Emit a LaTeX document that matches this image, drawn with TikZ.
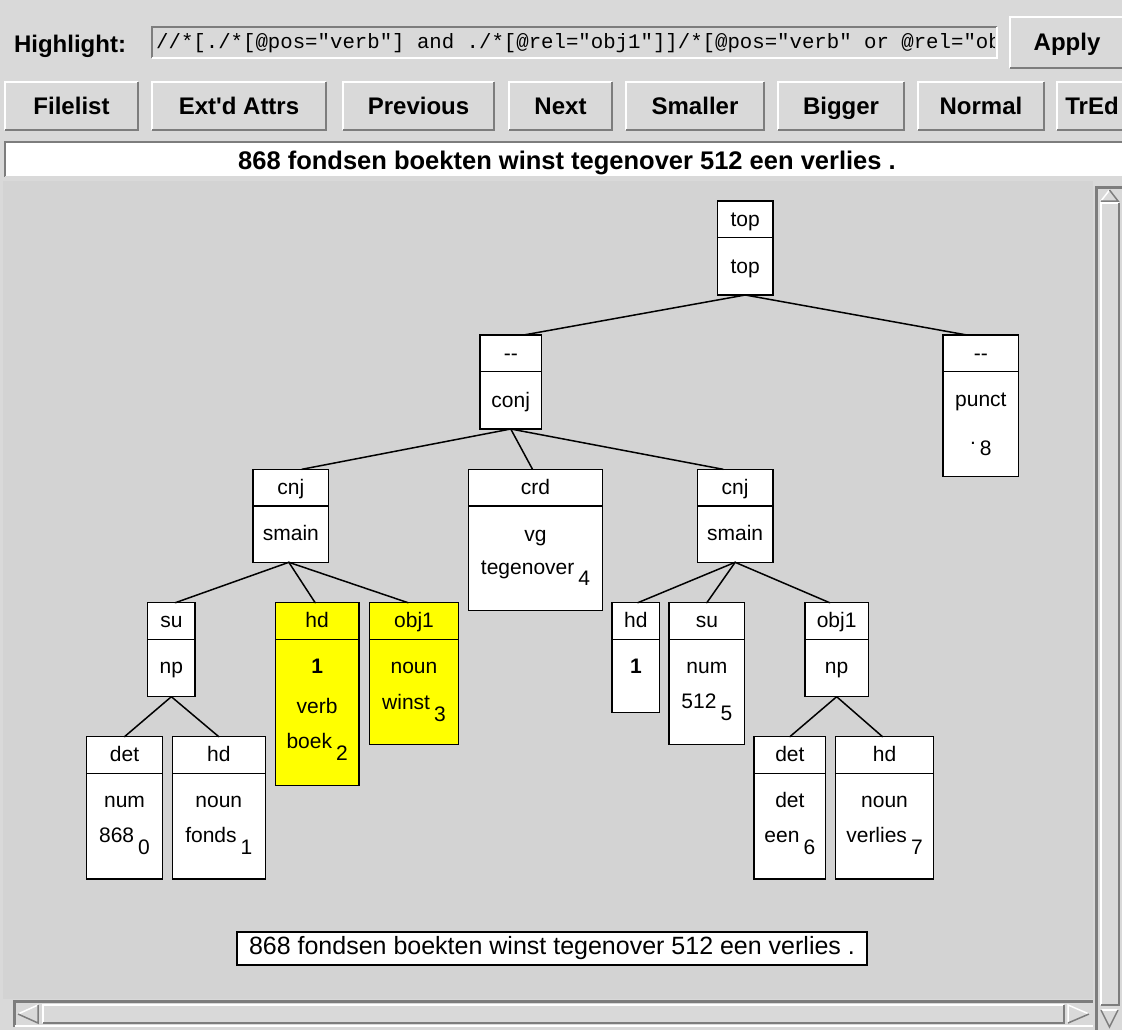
\documentclass[tikz,border=0pt]{standalone}
\usepackage{fontspec}
\setmainfont{Liberation Sans}
\newfontfamily\monofont{Liberation Mono}
\usetikzlibrary{calc}
\definecolor{uigray}{RGB}{217,217,217}
\definecolor{cvgray}{RGB}{211,211,211}
\definecolor{dkgray}{RGB}{125,125,125}
\definecolor{hlyellow}{RGB}{255,255,0}
\newcounter{tlc}
\newcommand\sub[2]{#1\hspace{4pt}\raisebox{-11.5pt}{#2}}
% tree box: name, x, y (top-left), width, height, fill
\newcommand\TB[6]{%
  \node[tbox, fill=#6, minimum width=#4pt, minimum height=#5pt] (#1) at (#2,#3) {};%
  \draw[divl] ([yshift=-36.5pt]#1.north west) -- ([yshift=-36.5pt]#1.north east);}
% text line in a box: [style] name, baseline offset from top, text
\newcommand\TL[4][tt]{\stepcounter{tlc}%
  \node[#1] (lbl\arabic{tlc}) at ([yshift=-#3pt]#2.north) {#4};}
% raised UI button: name, x1, y1, x2, y2, text
\newcommand\uibutton[6]{%
  \pgfmathsetmacro\bw{#4-#2}\pgfmathsetmacro\bh{#5-#3}%
  \pgfmathsetmacro\bx{(#2+#4)/2}\pgfmathsetmacro\by{(#3+#5)/2+8.5}%
  \node[btn, minimum width=\bw pt, minimum height=\bh pt, anchor=north west] (#1) at (#2,#3) {};%
  \draw[white, line width=2.5pt] (#1.south west) -- (#1.north west) -- (#1.north east);%
  \draw[dkgray, line width=2.5pt] (#1.south west) -- (#1.south east) -- (#1.north east);%
  \node[btntxt] (#1-txt) at (\bx,\by) {#6};}
\begin{document}
\begin{tikzpicture}[x=1pt,y=-1pt,
  tbox/.style={draw=black, line width=1.4pt, inner sep=0pt, outer sep=0pt, anchor=north west},
  divl/.style={line width=1.4pt},
  edge/.style={line width=1.5pt, line cap=round},
  tt/.style={font=\fontsize{21}{25}\selectfont, inner sep=0pt, anchor=base},
  ttb/.style={tt, font=\fontsize{21}{25}\selectfont\bfseries},
  btn/.style={inner sep=0pt, outer sep=0pt, fill=uigray},
  btntxt/.style={font=\fontsize{24}{28}\selectfont\bfseries, inner sep=0pt, anchor=base},
  sunk/.style={dkgray, line width=2.5pt},
  lite/.style={white, line width=2.5pt},
]
\clip (0,0) rectangle (1122,1030);
\useasboundingbox (0,0) rectangle (1122,1030);
\fill[uigray] (0,0) rectangle (1122,1030);

% ---------- toolbar ----------
\node[font=\fontsize{24}{28}\selectfont\bfseries, inner sep=0pt, anchor=base] (hllabel) at (70,53) {Highlight:};
\node[inner sep=0pt, outer sep=0pt, fill=uigray, minimum width=845pt, minimum height=31pt, anchor=north west] (field) at (152,27) {};
\draw[sunk] (field.south west) -- (field.north west) -- (field.north east);
\draw[lite] (field.south west) -- (field.south east) -- (field.north east);
\begin{scope}
\clip (154,29) rectangle (994,56);
\node[font=\monofont\fontsize{20.7}{24}\selectfont, inner sep=0pt, anchor=base west] (query) at (156,49)
  {//*[./*[@pos="verb"] and ./*[@rel="obj1"]]/*[@pos="verb" or @rel="ob};
\end{scope}
\uibutton{apply}{1010}{17}{1124}{68}{Apply}

\uibutton{filelist}{5}{82}{138}{130}{Filelist}
\uibutton{extd}{152}{82}{326}{130}{Ext\textquotesingle d Attrs}
\uibutton{previous}{343}{82}{494}{130}{Previous}
\uibutton{next}{509}{82}{612}{130}{Next}
\uibutton{smaller}{626}{82}{764}{130}{Smaller}
\uibutton{bigger}{778}{82}{904}{130}{Bigger}
\uibutton{normal}{918}{82}{1044}{130}{Normal}
\uibutton{tred}{1057}{82}{1127}{130}{TrEd}

% sentence bar
\node[inner sep=0pt, outer sep=0pt, fill=white, minimum width=1120pt, minimum height=35pt, anchor=north west] (sbar) at (5,142) {};
\draw[dkgray, line width=2pt] (sbar.south west) -- (sbar.north west) -- (sbar.north east);
\draw[uigray, line width=1.5pt] (sbar.south west) -- (sbar.south east);
\node[font=\fontsize{25.5}{30}\selectfont\bfseries, inner sep=0pt, anchor=base] (stop) at (567,169)
  {868 fondsen boekten winst tegenover 512 een verlies .};

% ---------- canvas ----------
\fill[cvgray] (3,181) rectangle (1093,999);

% boxes
\TB{top}{717.5}{201}{55.5}{94}{white}
\TB{conj}{480}{335}{61.5}{94}{white}
\TB{punct}{943}{335}{75.7}{141.5}{white}
\TB{cnjL}{253}{469.3}{75.7}{93}{white}
\TB{crd}{468.3}{469.3}{134.4}{141.4}{white}
\TB{cnjR}{697.3}{469.3}{75.7}{93}{white}
\TB{suL}{147.7}{602.7}{47.3}{94}{white}
\TB{hdY}{275.3}{602.7}{83.7}{183}{hlyellow}
\TB{objY}{369.3}{602.7}{89.4}{141.6}{hlyellow}
\TB{detL}{86.7}{736.7}{75.6}{142.3}{white}
\TB{hdL}{172.3}{736.7}{93}{142.3}{white}
\TB{hdR}{612}{602.7}{47.7}{110}{white}
\TB{suR}{669}{602.7}{75.7}{141.6}{white}
\TB{objR}{805}{602.7}{63.3}{94}{white}
\TB{detR}{754}{736.7}{71.7}{142.3}{white}
\TB{hdRb}{835.7}{736.7}{97.6}{142.3}{white}

% labels
\TL{top}{25}{top}\TL{top}{72}{top}
\TL{conj}{25}{-{}-}\TL{conj}{72}{conj}
\TL{punct}{25}{-{}-}\TL{punct}{71}{punct}\TL{punct}{109}{\sub{.}{8}}
\TL{cnjL}{25}{cnj}\TL{cnjL}{71}{smain}
\TL{crd}{25}{crd}\TL{crd}{72}{vg}\TL{crd}{105}{\sub{tegenover}{4}}
\TL{cnjR}{25}{cnj}\TL{cnjR}{71}{smain}
\TL{suL}{25}{su}\TL{suL}{71}{np}
\TL{hdY}{25}{hd}\TL[ttb]{hdY}{71}{1}\TL{hdY}{111}{verb}\TL{hdY}{146}{\sub{boek}{2}}
\TL{objY}{25}{obj1}\TL{objY}{71}{noun}\TL{objY}{107}{\sub{winst}{3}}
\TL{detL}{25}{det}\TL{detL}{71}{num}\TL{detL}{106}{\sub{868}{0}}
\TL{hdL}{25}{hd}\TL{hdL}{71}{noun}\TL{hdL}{106}{\sub{fonds}{1}}
\TL{hdR}{25}{hd}\TL[ttb]{hdR}{71}{1}
\TL{suR}{25}{su}\TL{suR}{71}{num}\TL{suR}{106}{\sub{512}{5}}
\TL{objR}{25}{obj1}\TL{objR}{71}{np}
\TL{detR}{25}{det}\TL{detR}{71}{det}\TL{detR}{106}{\sub{een}{6}}
\TL{hdRb}{25}{hd}\TL{hdRb}{71}{noun}\TL{hdRb}{106}{\sub{verlies}{7}}

% edges
\draw[edge] (top.south) -- ([xshift=13pt]conj.north);
\draw[edge] (top.south) -- ([xshift=-14pt]punct.north);
\draw[edge] (conj.south) -- ([xshift=11pt]cnjL.north);
\draw[edge] (conj.south) -- ([xshift=-3pt]crd.north);
\draw[edge] (conj.south) -- ([xshift=-12pt]cnjR.north);
\draw[edge] ([xshift=-2pt]cnjL.south) -- ([xshift=4pt]suL.north);
\draw[edge] ([xshift=-2pt]cnjL.south) -- ([xshift=-2pt]hdY.north);
\draw[edge] ([xshift=-2pt]cnjL.south) -- ([xshift=-6pt]objY.north);
\draw[edge] (suL.south) -- (detL.north);
\draw[edge] (suL.south) -- (hdL.north);
\draw[edge] (cnjR.south) -- ([xshift=2pt]hdR.north);
\draw[edge] (cnjR.south) -- (suR.north);
\draw[edge] (cnjR.south) -- ([xshift=-7pt]objR.north);
\draw[edge] (objR.south) -- (detR.north);
\draw[edge] (objR.south) -- ([xshift=-2pt]hdRb.north);

% bottom sentence
\node[draw=black, line width=1.4pt, fill=white, inner sep=0pt, minimum width=630pt, minimum height=33pt,
  font=\fontsize{25}{30}\selectfont] (sent) at (552,948.5)
  {868 fondsen boekten winst tegenover 512 een verlies .};

% ---------- vertical scrollbar ----------
\fill[uigray] (1095,186) rectangle (1122,1030);
\draw[sunk] (1096.5,1030) -- (1096.5,187.5) -- (1122,187.5);
\fill[uigray] (1101,203) rectangle (1119,1005);
\draw[lite] (1101,1005) -- (1101,203) -- (1119,203);
\draw[sunk] (1101,1005) -- (1119,1005) -- (1119,203);
\draw[line width=1.5pt, white] (1101,201) -- (1109.5,190);
\draw[line width=1.5pt, dkgray] (1109.5,190) -- (1118,201) -- (1101,201);
\draw[line width=1.5pt, white] (1101,1010) -- (1118,1010);
\draw[line width=1.5pt, dkgray] (1101,1010) -- (1109.5,1027) -- (1118,1010);

% ---------- horizontal scrollbar ----------
\fill[uigray] (14,1000) rectangle (1093,1027);
\draw[sunk] (14.5,1027) -- (14.5,1001.5) -- (1093,1001.5);
\draw[lite] (14.5,1026) -- (1093,1026);
\fill[uigray] (43,1005) rectangle (1064,1023);
\draw[lite] (43,1023) -- (43,1005) -- (1064,1005);
\draw[sunk] (43,1023) -- (1064,1023) -- (1064,1005);
\draw[line width=1.5pt, white] (18,1014) -- (38,1005);
\draw[line width=1.5pt, dkgray] (38,1005) -- (38,1023) -- (18,1014);
\draw[line width=1.5pt, white] (1068,1023) -- (1068,1005) -- (1089,1014);
\draw[line width=1.5pt, dkgray] (1089,1014) -- (1068,1023);
\end{tikzpicture}
\end{document}
